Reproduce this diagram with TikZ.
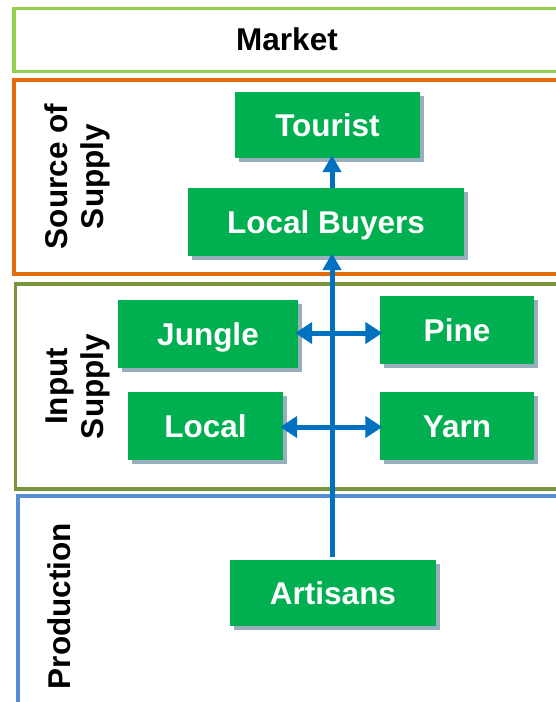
\documentclass[tikz,border=0pt]{standalone}
\usepackage{fontspec}
\setmainfont{Liberation Sans}
\usetikzlibrary{arrows.meta,shadows}
\definecolor{mktgreen}{HTML}{92D050}
\definecolor{srcorange}{HTML}{E46C0A}
\definecolor{inolive}{HTML}{77933C}
\definecolor{prodblue}{HTML}{558ED5}
\definecolor{flowblue}{HTML}{0070C0}
\definecolor{boxgreen}{HTML}{00B050}
\definecolor{shadowgray}{HTML}{98AEBC}
\tikzset{
  band/.style={line width=3.5pt},
  bigfont/.style={font=\fontsize{31.5}{36}\selectfont\bfseries},
  actor/.style={bigfont, fill=boxgreen, text=white, inner sep=0pt,
    text height=22.5pt, text depth=0pt,
    general shadow={fill=shadowgray, shadow xshift=3.5pt, shadow yshift=-4pt}},
  sidelabel/.style={bigfont, rotate=90, anchor=base, inner sep=0pt},
  flow/.style={draw=flowblue, line width=5pt},
  uparrow/.style={flow, -{Triangle[length=17pt,width=18pt]}, shorten >=-3pt},
  twoway/.style={flow, {Triangle[length=17pt,width=21pt]}-{Triangle[length=17pt,width=21pt]},
    shorten >=-2.5pt, shorten <=-3pt}
}
\begin{document}
\begin{tikzpicture}[x=1pt,y=-1pt]
  \clip (0,0) rectangle (556,702);
  \fill[white] (0,0) rectangle (556,702);

  % horizontal bands
  \draw[band, mktgreen]   (14,8.5) rectangle (580,71.5);
  \draw[band, srcorange]  (14,80)  rectangle (580,274);
  \draw[band, inolive]    (15.7,284) rectangle (580,489);
  \draw[band, prodblue]   (18,496) rectangle (580,720);

  \node[bigfont, anchor=base] (market) at (287,50) {Market};

  % band titles
  \node[sidelabel] (srcA) at (67,176.5) {Source of};
  \node[sidelabel] (srcB) at (103,176.5) {Supply};
  \node[sidelabel] (inA) at (67,386.5) {Input};
  \node[sidelabel] (inB) at (103.5,386.5) {Supply};
  \node[sidelabel] (prod) at (70,606) {Production};

  % actors
  \node[actor, minimum width=185pt, minimum height=66pt] (tourist) at (327.5,125) {Tourist};
  \node[actor, minimum width=276pt, minimum height=68pt] (buyers) at (326,222) {Local Buyers};
  \node[actor, minimum width=180pt, minimum height=68pt] (jungle) at (208,334) {Jungle};
  \node[actor, minimum width=154pt, minimum height=68pt] (pine) at (457,330) {Pine};
  \node[actor, minimum width=155pt, minimum height=68pt] (local) at (205.5,426) {Local};
  \node[actor, minimum width=154pt, minimum height=68pt] (yarn) at (457,426) {Yarn};
  \node[actor, minimum width=206pt, minimum height=66pt] (artisans) at (333,593) {Artisans};

  % flows
  \coordinate (spine) at (332,0);
  \coordinate (rowA) at (0,333);
  \coordinate (rowB) at (0,427);
  \draw[uparrow, shorten <=3pt] (artisans.north -| spine) -- (buyers.south -| spine);
  \draw[uparrow] (buyers.north -| spine) -- (tourist.south -| spine);
  \draw[twoway] (jungle.east |- rowA) -- (pine.west |- rowA);
  \draw[twoway] (local.east |- rowB) -- (yarn.west |- rowB);
\end{tikzpicture}
\end{document}
